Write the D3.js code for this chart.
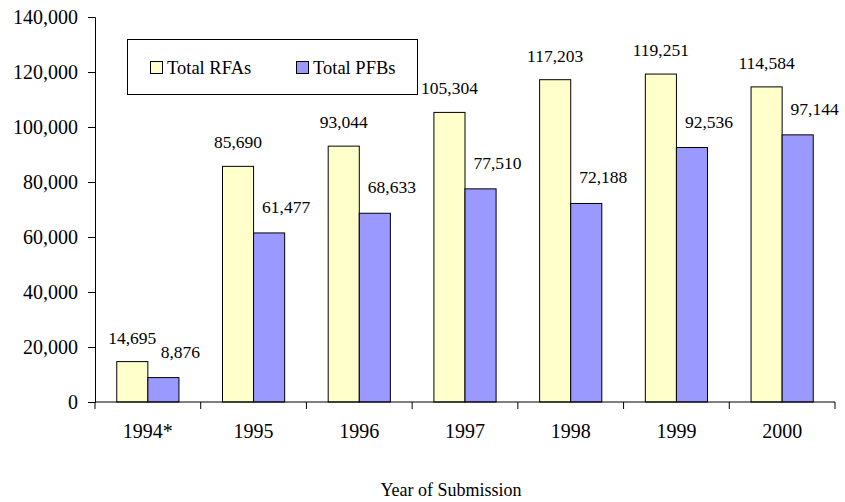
<!DOCTYPE html>
<html>
<head>
<meta charset="utf-8">
<script src="https://cdn.jsdelivr.net/npm/d3@7"></script>
<style>
  body { margin: 0; background: #fff; }
  svg text { font-family: "Liberation Serif", "Times New Roman", serif; fill: #000; }
</style>
</head>
<body>
<div class="container"></div>
<script>
const width = 845, height = 502;

// data
const years = ["1994*", "1995", "1996", "1997", "1998", "1999", "2000"];
const totalRFAs = [14695, 85690, 93044, 105304, 117203, 119251, 114584];
const totalPFBs = [8876, 61477, 68633, 77510, 72188, 92536, 97144];
const seriesNames = ["Total RFAs", "Total PFBs"];
const yTicks = [0, 20000, 40000, 60000, 80000, 100000, 120000, 140000];

const colors = ["#ffffcc", "#9999ff"];
const fmt = d3.format(",");

const svg = d3.select(".container")
    .append("svg")
    .attr("width", width)
    .attr("height", height);

const x = d3.scaleBand().domain(years).range([95, 835]);
const xs = d3.scaleBand().domain(seriesNames).range([0, x.bandwidth()]).paddingOuter(0.7);
const y = d3.scaleLinear().domain([0, 140000]).range([402, 17]);

const rows = years.map((yr, i) => ({ year: yr, values: [totalRFAs[i], totalPFBs[i]] }));

// bars
const groups = svg.append("g")
    .selectAll("g")
    .data(rows)
    .enter().append("g")
    .attr("transform", d => `translate(${x(d.year)},0)`);

groups.selectAll("rect")
    .data(d => d.values.map((v, k) => ({ v, k })))
    .enter().append("rect")
    .attr("x", d => xs(seriesNames[d.k]))
    .attr("width", xs.bandwidth())
    .attr("y", d => y(d.v))
    .attr("height", d => y(0) - y(d.v))
    .attr("fill", d => colors[d.k])
    .attr("stroke", "#000")
    .attr("stroke-width", 1);

// value labels (PFB labels sit a little up and to the right, like the original)
groups.selectAll("text.val")
    .data(d => d.values.map((v, k) => ({ v, k })))
    .enter().append("text")
    .attr("class", "val")
    .attr("x", d => xs(seriesNames[d.k]) + xs.bandwidth() / 2 + (d.k === 1 ? 17 : 0))
    .attr("y", d => y(d.v) - (d.k === 1 ? 20 : 18))
    .attr("text-anchor", "middle")
    .style("font-size", "17.5px")
    .text(d => fmt(d.v));

// y axis
const yAxis = svg.append("g")
    .attr("transform", "translate(95,0)")
    .call(d3.axisLeft(y).tickValues(yTicks).tickFormat(fmt).tickSize(7).tickPadding(10));
yAxis.attr("font-family", null).attr("font-size", null);
yAxis.select(".domain").attr("stroke", "#000");
yAxis.selectAll(".tick line").attr("stroke", "#000");
yAxis.selectAll("text").style("font-size", "20px").attr("fill", "#000");

// x axis: ticks at category boundaries
const xg = svg.append("g");
xg.append("line")
    .attr("x1", 95).attr("x2", 835)
    .attr("y1", y(0)).attr("y2", y(0))
    .attr("stroke", "#000");
xg.selectAll("line.tk")
    .data(years.map(d => x(d)).concat([x.range()[1]]))
    .enter().append("line")
    .attr("class", "tk")
    .attr("x1", d => d).attr("x2", d => d)
    .attr("y1", y(0)).attr("y2", y(0) + 7)
    .attr("stroke", "#000");
xg.selectAll("text")
    .data(years)
    .enter().append("text")
    .attr("x", d => x(d) + x.bandwidth() / 2)
    .attr("y", 438)
    .attr("text-anchor", "middle")
    .style("font-size", "20px")
    .text(d => d);

svg.append("text")
    .attr("x", 451)
    .attr("y", 496)
    .attr("text-anchor", "middle")
    .style("font-size", "18px")
    .text("Year of Submission");

// legend
const legend = svg.append("g");
legend.append("rect")
    .attr("x", 127.5).attr("y", 39.5)
    .attr("width", 290).attr("height", 55)
    .attr("fill", "#fff")
    .attr("stroke", "#000");
const legendX = [150, 296];
seriesNames.forEach((name, k) => {
    legend.append("rect")
        .attr("x", legendX[k] + 0.5).attr("y", 61.5)
        .attr("width", 12).attr("height", 12)
        .attr("fill", colors[k])
        .attr("stroke", "#000");
    legend.append("text")
        .attr("x", legendX[k] + 17)
        .attr("y", 74)
        .style("font-size", "18.5px")
        .text(name);
});
</script>
</body>
</html>
